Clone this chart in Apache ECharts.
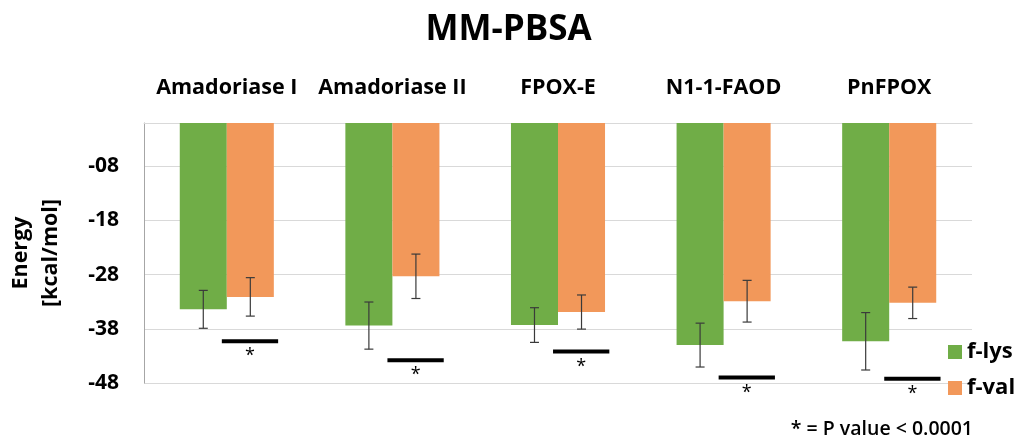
<!DOCTYPE html>
<html>
<head>
<meta charset="utf-8">
<title>MM-PBSA</title>
<script src="https://cdn.jsdelivr.net/npm/echarts@6/dist/echarts.min.js"></script>
<style>
  html, body { margin: 0; padding: 0; background: #fff; }
  #chart { width: 1017px; height: 443px; }
</style>
</head>
<body>
<div id="chart"></div>
<script>
// data
const categories = ['Amadoriase I', 'Amadoriase II', 'FPOX-E', 'N1-1-FAOD', 'PnFPOX']
const flys = [-34.4, -37.4, -37.3, -41.0, -40.3]
const fval = [-32.1, -28.3, -34.9, -32.9, -33.2]
const flysErr = [3.5, 4.35, 3.2, 4.05, 5.3]
const fvalErr = [3.55, 4.1, 3.15, 3.85, 2.9]
// level of the significance bar under each pair
const sigLevel = [-40.3, -43.8, -42.2, -47.0, -47.2]
const yTicks = [-48, -38, -28, -18, -8]

const FONT = '"Open Sans", "Noto Sans", sans-serif'
const GREEN = '#70AD47'
const ORANGE = '#F2985A'

// error bar: [catIndex, low, high]
function errData(vals, errs) {
  return vals.map((v, i) => [i, v - errs[i], v + errs[i]])
}

function errRender(side) {
  return function (params, api) {
    const band = api.size([1, 0])[0]
    const off = side * band * 0.142
    const lo = api.coord([api.value(0), api.value(1)])
    const hi = api.coord([api.value(0), api.value(2)])
    const x = lo[0] + off
    const cap = 4.5
    const style = { stroke: '#3a3a3a', lineWidth: 1.2 }
    return {
      type: 'group',
      children: [
        { type: 'line', shape: { x1: x, y1: lo[1], x2: x, y2: hi[1] }, style },
        { type: 'line', shape: { x1: x - cap, y1: lo[1], x2: x + cap, y2: lo[1] }, style },
        { type: 'line', shape: { x1: x - cap, y1: hi[1], x2: x + cap, y2: hi[1] }, style }
      ]
    }
  }
}

function sigRender(params, api) {
  const band = api.size([1, 0])[0]
  const p = api.coord([api.value(0), api.value(1)])
  const x1 = p[0] - band * 0.03
  const x2 = p[0] + band * 0.31
  return {
    type: 'group',
    children: [
      { type: 'line', shape: { x1: x1, y1: p[1], x2: x2, y2: p[1] }, style: { stroke: '#000', lineWidth: 4 } },
      {
        type: 'text',
        style: {
          x: (x1 + x2) / 2, y: p[1] + 15, text: '*',
          fill: '#000', font: '18px ' + FONT, align: 'center', verticalAlign: 'middle'
        }
      }
    ]
  }
}

const chart = echarts.init(document.getElementById('chart'))
chart.setOption({
  animation: false,
  title: {
    text: 'MM-PBSA',
    left: 'center',
    top: 8,
    textStyle: { fontFamily: FONT, fontSize: 35, fontWeight: 'bold', color: '#000' }
  },
  legend: {
    orient: 'vertical',
    left: 943,
    top: 336,
    itemWidth: 14,
    itemHeight: 14,
    itemGap: 14,
    icon: 'rect',
    data: ['f-lys', 'f-val'],
    textStyle: { fontFamily: FONT, fontSize: 22, fontWeight: 'bold', color: '#000' }
  },
  grid: { left: 144, right: 45, top: 123, bottom: 60, outerBoundsMode: 'none' },
  xAxis: {
    type: 'category',
    position: 'top',
    data: categories,
    axisLine: { lineStyle: { color: '#d9d9d9' } },
    axisTick: { show: false },
    axisLabel: {
      interval: 0,
      margin: 24,
      fontFamily: FONT, fontSize: 21.5, fontWeight: 'bold', color: '#000'
    }
  },
  yAxis: {
    type: 'value',
    min: -48,
    max: 0,
    interval: 10,
    name: 'Energy\n[kcal/mol]',
    nameLocation: 'middle',
    nameGap: 78,
    nameTextStyle: { fontFamily: FONT, fontSize: 21.5, fontWeight: 'bold', color: '#000', lineHeight: 30 },
    axisLine: { show: true, lineStyle: { color: '#a6a6a6' } },
    axisTick: { show: false },
    splitLine: { lineStyle: { color: '#d9d9d9' } },
    axisLabel: {
      margin: 25,
      fontFamily: FONT, fontSize: 21, fontWeight: 'bold', color: '#000',
      formatter: v => yTicks.includes(v) ? '-' + String(Math.abs(v)).padStart(2, '0') : ''
    }
  },
  series: [
    {
      name: 'f-lys', type: 'bar', data: flys,
      barWidth: '28.4%', barGap: '0%',
      itemStyle: { color: GREEN }
    },
    {
      name: 'f-val', type: 'bar', data: fval,
      barWidth: '28.4%', barGap: '0%',
      itemStyle: { color: ORANGE }
    },
    {
      type: 'custom', data: errData(flys, flysErr),
      renderItem: errRender(-1), z: 5, silent: true
    },
    {
      type: 'custom', data: errData(fval, fvalErr),
      renderItem: errRender(1), z: 5, silent: true
    },
    {
      type: 'custom', data: sigLevel.map((v, i) => [i, v]),
      renderItem: sigRender, z: 5, silent: true
    }
  ],
  graphic: [
    {
      type: 'text',
      right: 44,
      top: 419,
      style: { text: '* = P value < 0.0001', font: '600 19.5px ' + FONT, fill: '#000' }
    }
  ]
})
</script>
</body>
</html>
